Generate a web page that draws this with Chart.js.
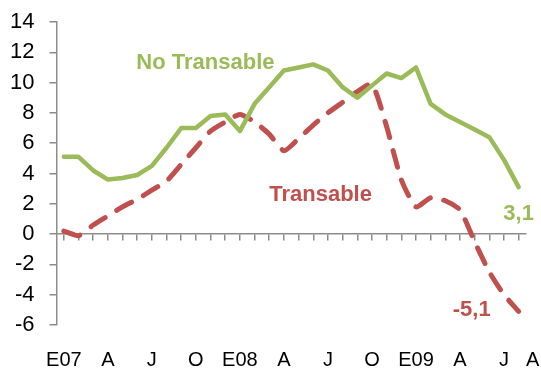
<!DOCTYPE html>
<html>
<head>
<meta charset="utf-8">
<script src="https://cdn.jsdelivr.net/npm/chart.js@4/dist/chart.umd.min.js"></script>
<style>
  html, body { margin: 0; padding: 0; background: #ffffff; }
  canvas { display: block; }
</style>
</head>
<body>
<canvas id="chart" width="541" height="369"></canvas>
<script>
// Monthly categories, Jan 2007 to Aug 2009 (Spanish month initials)
const categories = [
  'E07','F','M','A','M','J','J','A','S','O','N','D',
  'E08','F','M','A','M','J','J','A','S','O','N','D',
  'E09','F','M','A','M','J','J','A'
];

// Non-tradable goods inflation (%)
const noTransable = [
  5.1, 5.1, 4.2, 3.6, 3.7, 3.9, 4.5, 5.7, 7.0, 7.0, 7.8, 7.9,
  6.8, 8.6, 9.7, 10.8, 11.0, 11.2, 10.8, 9.7, 9.0, 9.8, 10.6, 10.3,
  11.0, 8.6, 7.9, 7.4, 6.9, 6.4, 4.9, 3.1
];

// Tradable goods inflation (%)
const transable = [
  0.2, -0.1, 0.6, 1.2, 1.8, 2.3, 2.9, 3.5, 4.6, 5.7, 6.8, 7.4,
  7.9, 7.4, 6.6, 5.5, 6.3, 7.2, 8.0, 8.7, 9.4, 9.9, 7.1, 3.6,
  1.8, 2.4, 2.2, 1.6, -0.5, -2.5, -4.0, -5.1
];

// Y axis tick values
const yTicks = [-6, -4, -2, 0, 2, 4, 6, 8, 10, 12, 14];

const GREEN = '#9BBB59';
const RED = '#C0504D';
const AXIS = '#8c8c8c';
const FONT = '"Liberation Sans", Arial, Helvetica, sans-serif';

const lastIdx = categories.length - 1;
const fmt = v => v.toFixed(1).replace('.', ',');

// Series names and end-of-period values written next to the lines
const notes = {
  id: 'notes',
  afterDatasetsDraw(chart) {
    const { ctx, scales: { x, y } } = chart;
    ctx.save();
    ctx.font = 'bold 22px ' + FONT;
    ctx.textAlign = 'center';
    ctx.textBaseline = 'alphabetic';

    ctx.fillStyle = GREEN;
    ctx.fillText('No Transable', x.getPixelForValue(9.65), y.getPixelForValue(10.9));
    ctx.fillStyle = RED;
    ctx.fillText('Transable', x.getPixelForValue(17.5), y.getPixelForValue(2.2));

    const gx = x.getPixelForValue(lastIdx);
    ctx.fillStyle = GREEN;
    ctx.fillText(fmt(noTransable[lastIdx]), gx, y.getPixelForValue(noTransable[lastIdx]) + 33);
    ctx.fillStyle = RED;
    ctx.fillText(fmt(transable[lastIdx]), gx - 47, y.getPixelForValue(transable[lastIdx]) + 5);
    ctx.restore();
  }
};

new Chart(document.getElementById('chart'), {
  type: 'line',
  data: {
    labels: categories,
    datasets: [
      {
        label: 'No Transable',
        data: noTransable,
        borderColor: GREEN,
        borderWidth: 4.5,
        pointRadius: 0,
        tension: 0,
        borderJoinStyle: 'round',
        borderCapStyle: 'round',
        fill: false
      },
      {
        label: 'Transable',
        data: transable,
        borderColor: RED,
        borderWidth: 5,
        borderDash: [17, 13.6],
        borderCapStyle: 'round',
        borderJoinStyle: 'round',
        pointRadius: 0,
        tension: 0.2,
        fill: false
      }
    ]
  },
  options: {
    responsive: false,
    animation: false,
    devicePixelRatio: 1,
    layout: { padding: { left: 0, right: 15, top: 22, bottom: 0 } },
    plugins: {
      legend: { display: false },
      tooltip: { enabled: false }
    },
    scales: {
      // month labels along the bottom
      x: {
        type: 'category',
        position: 'bottom',
        offset: true,
        border: { display: false },
        grid: { display: false, drawTicks: false },
        ticks: {
          autoSkip: false,
          maxRotation: 0,
          minRotation: 0,
          padding: 23,
          color: '#000000',
          font: { family: FONT, size: 20 },
          callback: (v, i) => {
            if (i === lastIdx) return '     ' + categories[i];
            return i % 3 === 0 ? categories[i] : '';
          }
        },
        afterFit: (s) => { s.height = 44; s.paddingLeft = 0; s.paddingRight = 0; }
      },
      // horizontal axis line crossing at zero, with month tick marks
      xZero: {
        type: 'category',
        labels: categories,
        position: { y: 0 },
        offset: true,
        border: { display: true, color: AXIS, width: 1.5 },
        grid: { drawOnChartArea: false, drawTicks: true, tickLength: 6, color: AXIS, lineWidth: 1.5 },
        ticks: { display: false }
      },
      y: {
        min: -6,
        max: 14,
        afterBuildTicks: (s) => { s.ticks = yTicks.map(v => ({ value: v })); },
        border: { display: true, color: AXIS, width: 1.5 },
        grid: { drawOnChartArea: false, drawTicks: true, tickLength: 7, color: AXIS, lineWidth: 1.5 },
        ticks: {
          padding: 15,
          color: '#000000',
          font: { family: FONT, size: 22 }
        },
        afterFit: (s) => { s.width = 56.5; s.paddingTop = 0; s.paddingBottom = 0; }
      }
    }
  },
  plugins: [notes]
});
</script>
</body>
</html>
